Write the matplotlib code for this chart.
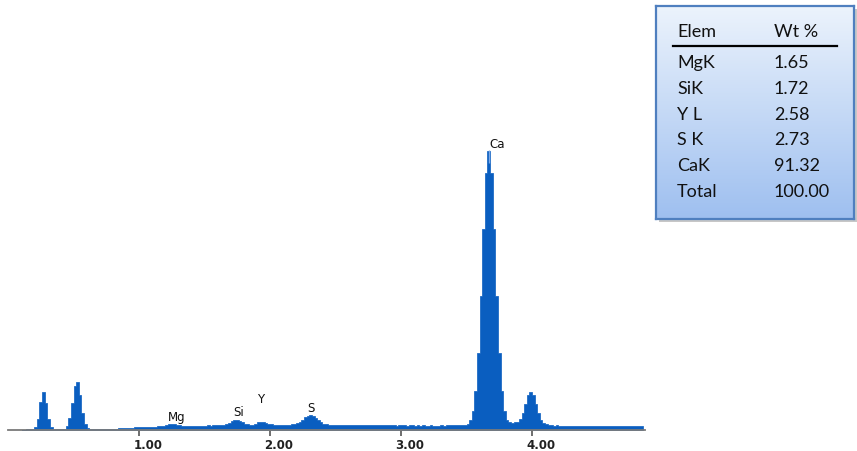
import numpy as np
import matplotlib
matplotlib.use("Agg")
import matplotlib.pyplot as plt
from matplotlib.transforms import ScaledTranslation
from matplotlib.patches import Rectangle

# EDS spectrum: channel width 0.02 keV, first channel centred at 0.11 keV
e_start = 0.11
e_step = 0.02
counts = [
    0.5, 0.5, 0.6, 0.6, 0.8, 3, 11, 28, 38, 27,
    11, 3, 1.0, 0.8, 0.8, 1.0, 1.2, 4, 12, 27,
    44, 48, 35, 17, 6, 2.5, 1.2, 1.0, 1.0, 1.1,
    1.0, 1.2, 1.2, 1.3, 1.4, 1.3, 1.5, 1.6, 1.8, 2.0,
    2.2, 2.4, 2.3, 2.6, 2.8, 3.0, 2.9, 3.1, 3.3, 3.2,
    3.5, 3.4, 3.6, 3.8, 4.2, 5.0, 5.8, 6.2, 5.9, 5.2,
    4.6, 4.2, 4.0, 4.1, 4.0, 4.2, 4.3, 4.2, 4.4, 4.5,
    4.4, 4.6, 4.5, 4.7, 4.6, 4.8, 4.9, 5.3, 6.0, 7.2,
    8.8, 10.2, 10.5, 9.5, 8.0, 6.5, 5.6, 5.3, 5.5, 6.3,
    7.6, 8.4, 8.0, 7.0, 6.0, 5.6, 5.4, 5.2, 5.0, 5.3,
    5.1, 5.2, 5.4, 5.6, 6.0, 7.0, 8.5, 10.5, 12.8, 14.5,
    15.0, 14.0, 12.0, 9.8, 7.8, 6.5, 5.8, 5.4, 5.3, 5.1,
    5.0, 5.2, 4.9, 5.0, 5.1, 4.8, 5.0, 4.9, 5.1, 4.8,
    4.9, 4.7, 5.0, 4.8, 4.9, 4.7, 4.8, 4.6, 4.9, 4.7,
    4.8, 4.6, 4.7, 4.5, 4.8, 4.6, 4.7, 4.5, 4.6, 4.7,
    4.5, 4.6, 4.4, 4.6, 4.5, 4.4, 4.6, 4.5, 4.4, 4.5,
    4.6, 4.5, 4.7, 4.6, 4.7, 4.8, 4.9, 5.0, 5.1,
    5.3, 6.3, 9.7, 18.7, 39, 77, 134, 201, 257, 279,
    257, 201, 134, 77, 39, 19, 10, 8, 7.5, 8,
    8.5, 11.2, 17.5, 26.3, 34.6, 38, 34.6, 26, 17, 10.5,
    7.5, 5.8, 5.0,
    4.7, 4.5, 4.6, 4.4, 4.5, 4.3, 4.4, 4.2, 4.4, 4.3,
    4.2, 4.3, 4.1, 4.2, 4.0, 4.2, 4.1, 4.0, 4.1, 3.9,
    4.0, 3.9, 4.0, 3.8, 3.9, 3.8, 3.9, 3.7, 3.8, 3.7,
    3.8, 3.6, 3.7, 3.6, 3.7, 3.6,
]

# Peak identification labels
peak_labels = ["Mg", "Si", "Y", "S", "Ca"]
peak_energy = [1.25, 1.75, 1.93, 2.31, 3.67]
# label offsets from the peak top, in pixels
label_dx = [5, 1, 0, 0, 8]
label_dy = [7, 8, 23, 7, 7]

tick_values = [1.0, 2.0, 3.0, 4.0]
tick_labels = ["1.00", "2.00", "3.00", "4.00"]

# Quantification table
elements = ["MgK", "SiK", "Y L", "S K", "CaK"]
wt_percent = [1.65, 1.72, 2.58, 2.73, 91.32]

energy = e_start + e_step * np.arange(len(counts))
counts = np.asarray(counts, dtype=float)

W, H = 857, 452
fig = plt.figure(figsize=(W / 100, H / 100), dpi=100)
fig.patch.set_facecolor("white")

ax = fig.add_axes([8 / W, 21 / H, (645 - 8) / W, 391 / H])
ax.set_xlim(0, (645 - 8) / 131)
ax.set_ylim(0, 391)

blue = "#0a5ec0"
ax.fill_between(energy, counts, step="mid", facecolor=blue,
                edgecolor=blue, lw=0.5)

for s in ("left", "top", "right"):
    ax.spines[s].set_visible(False)
ax.spines["bottom"].set_color("#7a7a7a")
ax.spines["bottom"].set_linewidth(1.3)
ax.set_yticks([])
ax.set_xticks(tick_values)
ax.set_xticklabels(tick_labels, fontweight="bold", fontsize=8.5,
                   color="#222222", family="DejaVu Sans")
ax.tick_params(axis="x", direction="out", length=4, width=1.2,
               color="#555555", pad=2)
shift = ScaledTranslation(9 / 100, 0, fig.dpi_scale_trans)
for lab in ax.get_xticklabels():
    lab.set_transform(lab.get_transform() + shift)

# peak labels
for name, e, dx, dy in zip(peak_labels, peak_energy, label_dx, label_dy):
    idx = int(np.argmin(np.abs(energy - e)))
    ax.annotate(name, xy=(energy[idx], counts[idx]), xytext=(dx, dy),
                textcoords="offset pixels", ha="center", va="center",
                fontsize=8.5, color="#111111", annotation_clip=False)
    if name == "Ca":
        ax.vlines(energy[idx], counts[idx] - 12, counts[idx] + 1,
                  color="#7aa8e6", lw=1.0)

# quantification table with gradient fill and shadow
x0, y0, tw, th = 656, 7, 198, 213
shadow = Rectangle(((x0 + 3) / W, 1 - (y0 + th + 3) / H), tw / W, th / H,
                   transform=fig.transFigure, facecolor="#9a9a9a",
                   alpha=0.55, edgecolor="none", zorder=1)
fig.patches.append(shadow)
tab = fig.add_axes([x0 / W, 1 - (y0 + th) / H, tw / W, th / H], zorder=2)
grad = np.linspace(0, 1, 256)[:, None]
top_c = np.array([0.925, 0.953, 0.988])
bot_c = np.array([0.62, 0.75, 0.94])
img = top_c[None, None, :] * (1 - grad[..., None]) + bot_c[None, None, :] * grad[..., None]
img = np.repeat(img, 2, axis=1)
tab.imshow(img, extent=[0, tw, th, 0], aspect="auto", interpolation="bilinear")
tab.set_xlim(0, tw)
tab.set_ylim(th, 0)
tab.set_xticks([])
tab.set_yticks([])
for s in tab.spines.values():
    s.set_color("#4f7fbf")
    s.set_linewidth(1.6)

font = dict(family="Lato", fontsize=13, color="#111111", va="center")
tab.text(21, 25, "Elem", **font)
tab.text(118, 25, "Wt %", **font)
tab.plot([17, 181], [40, 40], color="black", lw=1.6)
rows = elements + ["Total"]
vals = wt_percent + [sum(wt_percent)]
for k, (el, v) in enumerate(zip(rows, vals)):
    yy = 56 + k * 25.8
    tab.text(21, yy, el, **font)
    tab.text(118, yy, f"{v:.2f}", **font)

fig.savefig("out.png", dpi=100)
